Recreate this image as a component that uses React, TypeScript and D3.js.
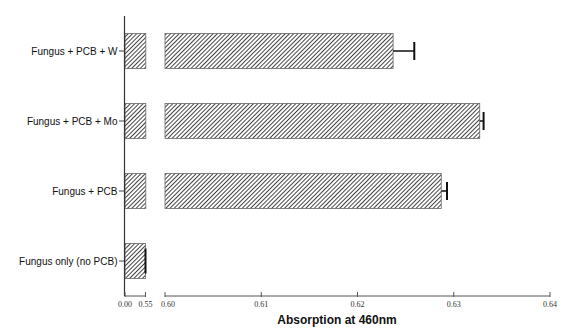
import React from "react";
import * as d3 from "d3";

const categories = ["Fungus + PCB + W", "Fungus + PCB + Mo", "Fungus + PCB", "Fungus only (no PCB)"];
const values = [0.6237, 0.6327, 0.6287, 0.5495];
const errors = [0.0022, 0.0004, 0.0006, 0.0003];
const lowTicks = [0.0, 0.55];
const highTicks = [0.6, 0.61, 0.62, 0.63, 0.64];
const axisTitle = "Absorption at 460nm";

const W = 576;
const H = 336;
const BREAK_LOW = 0.55;
const BREAK_HIGH = 0.6;

export default function App() {
  const y = d3.scaleBand<string>().domain(categories).range([16, 296]).paddingInner(0.5).paddingOuter(0.25);
  const x1 = d3.scaleLinear().domain([0, BREAK_LOW]).range([125, 145.5]);
  const x2 = d3.scaleLinear().domain([BREAK_HIGH, 0.64]).range([165, 550]);
  const axisY = 296;
  const sans = "'Liberation Sans', Arial, sans-serif";
  const serif = "'Liberation Serif', 'Times New Roman', serif";
  const bw = y.bandwidth();

  return (
    <svg width={W} height={H} style={{ position: "absolute", left: 0, top: 0, background: "#fff" }}>
      <defs>
        <pattern id="hatch" patternUnits="userSpaceOnUse" width={3} height={3} patternTransform="rotate(45)">
          <rect width={3} height={3} fill="#fff" />
          <line x1={0} y1={0} x2={0} y2={3} stroke="#222" strokeWidth={1.7} />
        </pattern>
      </defs>
      {categories.map((c, i) => {
        const v = values[i];
        const yb = y(c)!;
        const cy = yb + bw / 2;
        const lowEnd = v > BREAK_LOW ? x1(0.558) : x1(v);
        const hasHigh = v > BREAK_HIGH;
        const errX = hasHigh ? x2(v + errors[i]) : x1(v + errors[i]);
        const endX = hasHigh ? x2(v) : x1(v);
        return (
          <g key={c}>
            <rect x={x1(0)} y={yb} width={lowEnd - x1(0)} height={bw} fill="url(#hatch)" stroke="#666" strokeWidth={0.8} />
            {hasHigh && (
              <rect x={x2(BREAK_HIGH)} y={yb} width={x2(v) - x2(BREAK_HIGH)} height={bw} fill="url(#hatch)" stroke="#666" strokeWidth={0.8} />
            )}
            <line x1={endX} x2={errX} y1={cy} y2={cy} stroke="#111" strokeWidth={1.5} />
            <line x1={errX} x2={errX} y1={cy - (hasHigh ? 9 : 12.5)} y2={cy + (hasHigh ? 9 : 12.5)} stroke="#111" strokeWidth={2} />
            <line x1={119} x2={124.5} y1={cy} y2={cy} stroke="#444" strokeWidth={1} />
            <text x={117.5} y={cy + 3.5} textAnchor="end" fontFamily={sans} fontSize={10} fill="#111">
              {c}
            </text>
          </g>
        );
      })}
      <line x1={124.5} x2={124.5} y1={16} y2={axisY} stroke="#333" strokeWidth={1.2} />
      <line x1={x1(0)} x2={x1(BREAK_LOW)} y1={axisY} y2={axisY} stroke="#555" strokeWidth={1} />
      <line x1={x2(BREAK_HIGH)} x2={x2(0.64)} y1={axisY} y2={axisY} stroke="#555" strokeWidth={1} />
      {lowTicks.map((t) => (
        <g key={"l" + t}>
          <line x1={x1(t)} x2={x1(t)} y1={axisY - 4} y2={axisY + 1} stroke="#555" strokeWidth={1} />
          <text x={x1(t)} y={307} textAnchor="middle" fontFamily={serif} fontSize={8} fill="#333">
            {t.toFixed(2)}
          </text>
        </g>
      ))}
      {highTicks.map((t) => (
        <g key={"h" + t}>
          <line x1={x2(t)} x2={x2(t)} y1={axisY - 4} y2={axisY + 1} stroke="#555" strokeWidth={1} />
          <text x={x2(t) + (t === BREAK_HIGH ? 3 : 0)} y={307} textAnchor="middle" fontFamily={serif} fontSize={8} fill="#333">
            {t.toFixed(2)}
          </text>
        </g>
      ))}
      <text x={337} y={324} textAnchor="middle" fontFamily={sans} fontWeight="bold" fontSize={12} fill="#111">
        {axisTitle}
      </text>
    </svg>
  );
}
